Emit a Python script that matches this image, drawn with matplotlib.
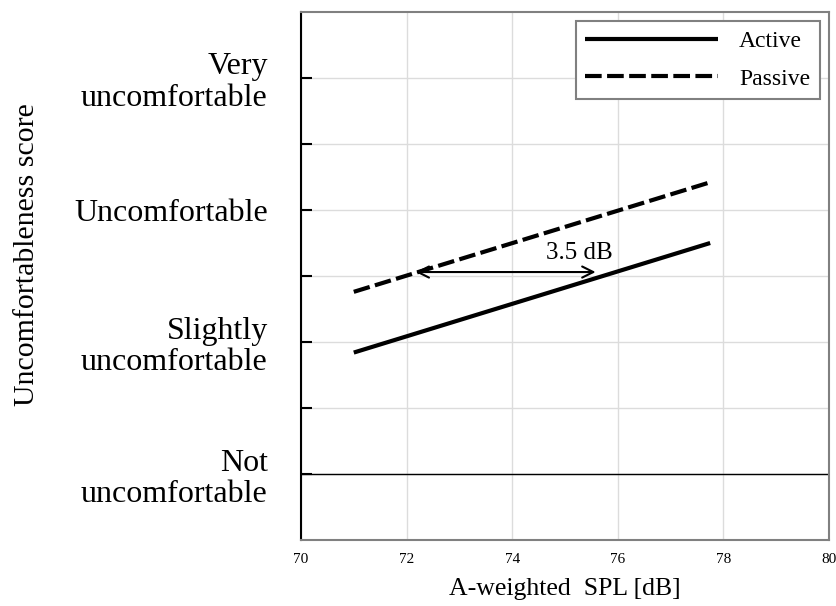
import matplotlib
matplotlib.use('Agg')
import matplotlib.pyplot as plt

plt.rcParams['font.family'] = ['Liberation Serif', 'DejaVu Serif']

# regression lines (A-weighted SPL vs. score)
spl = [71.0, 77.75]
active = [0.92, 1.75]
passive = [1.38, 2.21]

score_ticks = [0, 1, 2, 3]
score_labels = ['Not\nuncomfortable', 'Slightly\nuncomfortable',
                'Uncomfortable', 'Very\nuncomfortable']

shift_from, shift_to, shift_y = 75.58, 72.17, 1.53
shift_text = '3.5 dB'

fig = plt.figure(figsize=(8.37, 6.06), dpi=100)
ax = fig.add_axes([0.3596, 0.1089, 0.6308, 0.8713])

ax.plot(spl, active, color='black', lw=3, solid_capstyle='butt', label='Active')
ax.plot(spl, passive, color='black', lw=3, linestyle=(0, (4, 1.3)),
        dash_capstyle='butt', label='Passive')

ax.annotate('', xy=(shift_to, shift_y), xytext=(shift_from, shift_y),
            arrowprops=dict(arrowstyle='<->', color='black', lw=1.5,
                            mutation_scale=20, shrinkA=0, shrinkB=0))
ax.text((shift_from + shift_to) / 2 + 1.4, shift_y + 0.06, shift_text,
        fontsize=18, ha='center', va='bottom')

ax.axhline(0, color='black', lw=1)

ax.set_xlim(70, 80)
ax.set_ylim(-0.5, 3.5)
ax.set_xticks(range(70, 81, 2))
ax.set_yticks(score_ticks)
ax.set_yticklabels(score_labels, fontsize=23, multialignment='right',
                   linespacing=1.1)
ax.set_yticks([0.5, 1.5, 2.5], minor=True)

ax.tick_params(axis='x', length=0, labelsize=11, pad=9)
ax.tick_params(axis='y', which='both', direction='in', length=8, width=1.5, pad=24)

ax.grid(True, which='both', color='#dcdcdc', lw=1)
ax.set_axisbelow(True)

for side in ['top', 'right', 'bottom']:
    ax.spines[side].set_color('#808080')
    ax.spines[side].set_linewidth(1.5)
ax.spines['left'].set_color('black')
ax.spines['left'].set_linewidth(1.5)

ax.set_xlabel('A-weighted  SPL [dB]', fontsize=18.5, labelpad=9)
ax.set_ylabel('Uncomfortableness score', fontsize=21.5)
ax.yaxis.set_label_coords(-0.495, 0.54)

leg = ax.legend(loc='upper right', bbox_to_anchor=(0.983, 0.983), fontsize=17,
                fancybox=False, edgecolor='#808080', framealpha=1,
                handlelength=5.6, handletextpad=0.9, borderpad=0.42,
                labelspacing=0.66, borderaxespad=0)
leg.get_frame().set_linewidth(1.5)

fig.savefig('out.png', dpi=100)
